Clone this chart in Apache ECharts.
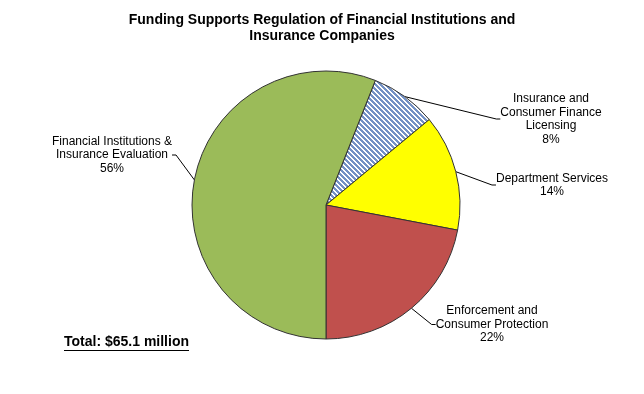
<!DOCTYPE html>
<html>
<head>
<meta charset="utf-8">
<script src="https://cdn.jsdelivr.net/npm/echarts@6/dist/echarts.min.js"></script>
<style>
html,body{margin:0;padding:0;background:#fff;}
#chart{width:644px;height:394px;}
</style>
</head>
<body>
<div id="chart"></div>
<script>
// ---- data ----
const categories = [
  'Insurance and\nConsumer Finance\nLicensing',
  'Department Services',
  'Enforcement and\nConsumer Protection',
  'Financial Institutions &\nInsurance Evaluation'
];
const percentValues = [8, 14, 22, 56];
const titleText = 'Funding Supports Regulation of Financial Institutions and\nInsurance Companies';
const totalText = 'Total: $65.1 million';

// ---- styling / layout (not data) ----
const labelCenters = [[551, 119], [552, 185], [492, 324.5], [112, 155]];

function makeHatch() {
  const n = 10;
  const c = document.createElement('canvas');
  c.width = n; c.height = n;
  const ctx = c.getContext('2d');
  ctx.fillStyle = '#ffffff';
  ctx.fillRect(0, 0, n, n);
  ctx.fillStyle = '#7491c4';
  for (let y = 0; y < n; y++) {
    for (let x = 0; x < n; x++) {
      const m = ((x - y) % 5 + 5) % 5;
      if (m < 3) ctx.fillRect(x, y, 1, 1);
    }
  }
  return c;
}

const colors = [
  { image: makeHatch(), repeat: 'repeat' },
  '#ffff00',
  '#c0504d',
  '#9bbb59'
];

const chart = echarts.init(document.getElementById('chart'), null, { renderer: 'canvas' });
const font = 'Arial, "Liberation Sans", sans-serif';

chart.setOption({
  animation: false,
  backgroundColor: '#ffffff',
  title: {
    text: titleText,
    left: 'center',
    top: 7,
    textStyle: { fontFamily: font, fontSize: 14, fontWeight: 'bold', color: '#000', lineHeight: 16 }
  },
  graphic: [
    {
      type: 'text',
      left: 64,
      top: 335,
      style: { text: totalText, fontFamily: font, fontSize: 14, fontWeight: 'bold', fill: '#000' }
    },
    {
      type: 'line',
      shape: { x1: 64, y1: 350.5, x2: 189, y2: 350.5 },
      style: { stroke: '#000', lineWidth: 1 }
    }
  ],
  series: [{
    type: 'pie',
    center: [326, 205],
    radius: 134,
    startAngle: 68.4,
    clockwise: true,
    avoidLabelOverlap: false,
    data: categories.map((n, i) => ({ name: n, value: percentValues[i], itemStyle: { color: colors[i] } })),
    itemStyle: { borderColor: '#333', borderWidth: 1 },
    label: {
      show: true,
      formatter: '{b}\n{d}%',
      fontFamily: font,
      fontSize: 12,
      lineHeight: 13.5,
      color: '#000',
      align: 'center'
    },
    labelLine: { show: true, length: 4, length2: 4, lineStyle: { color: '#000', width: 1 } },
    labelLayout: function (p) {
      const c = labelCenters[p.dataIndex];
      return { x: c[0], y: c[1], align: 'center', verticalAlign: 'middle' };
    },
    emphasis: { disabled: true }
  }]
});
</script>
</body>
</html>
